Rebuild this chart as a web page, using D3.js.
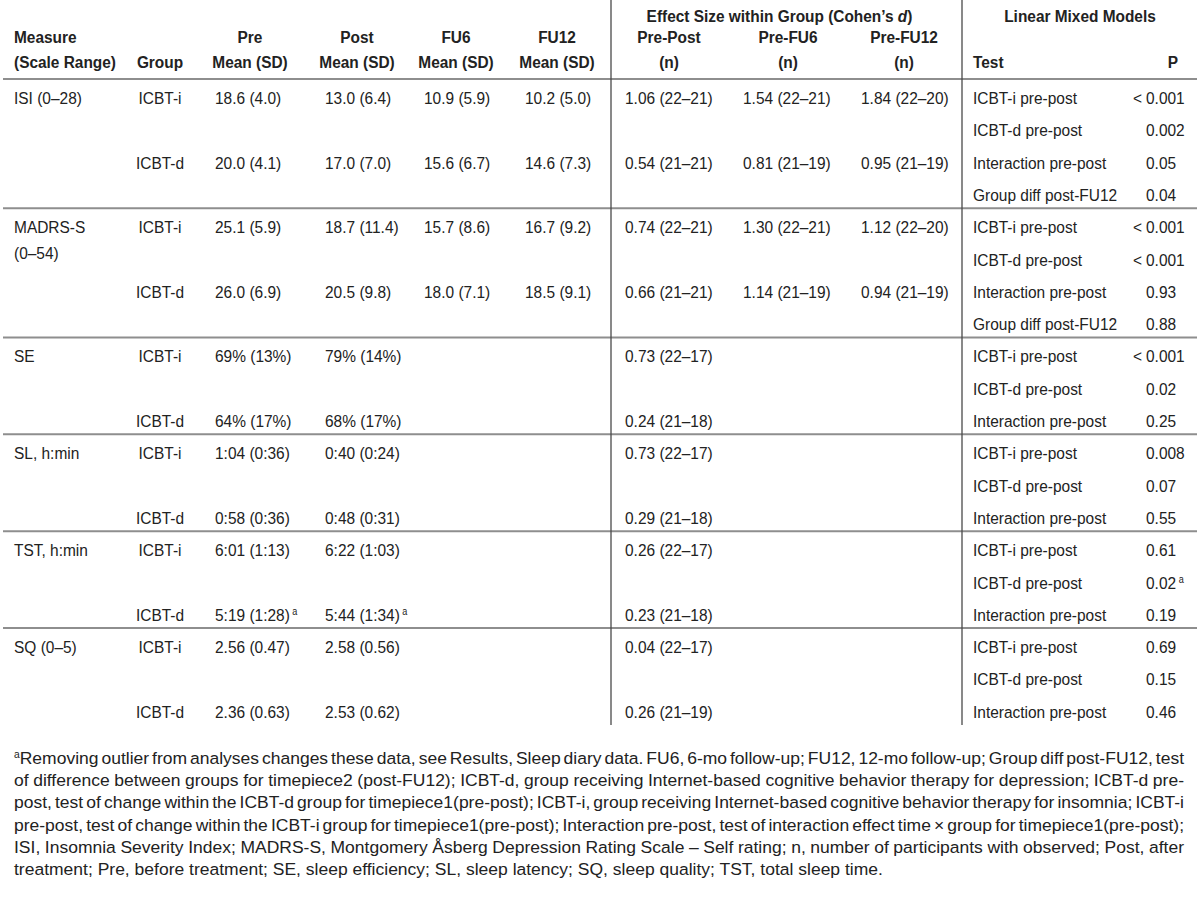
<!DOCTYPE html>
<html><head><meta charset="utf-8">
<script src="https://cdn.jsdelivr.net/npm/d3@7"></script>
<style>body{margin:0;background:#fff}</style>
</head><body><svg id="c" width="1200" height="901"></svg>
<script>
// ---------- data ----------
const measures = [["ISI (0–28)"],["MADRS-S","(0–54)"],["SE"],["SL, h:min"],["TST, h:min"],["SQ (0–5)"]];
const groups = ["ICBT-i","ICBT-d"];
const preMean = [["18.6 (4.0)","20.0 (4.1)"],["25.1 (5.9)","26.0 (6.9)"],["69% (13%)","64% (17%)"],["1:04 (0:36)","0:58 (0:36)"],["6:01 (1:13)","5:19 (1:28)^a"],["2.56 (0.47)","2.36 (0.63)"]];
const postMean = [["13.0 (6.4)","17.0 (7.0)"],["18.7 (11.4)","20.5 (9.8)"],["79% (14%)","68% (17%)"],["0:40 (0:24)","0:48 (0:31)"],["6:22 (1:03)","5:44 (1:34)^a"],["2.58 (0.56)","2.53 (0.62)"]];
const fu6Mean = [["10.9 (5.9)","15.6 (6.7)"],["15.7 (8.6)","18.0 (7.1)"],["",""],["",""],["",""],["",""]];
const fu12Mean = [["10.2 (5.0)","14.6 (7.3)"],["16.7 (9.2)","18.5 (9.1)"],["",""],["",""],["",""],["",""]];
const esPrePost = [["1.06 (22–21)","0.54 (21–21)"],["0.74 (22–21)","0.66 (21–21)"],["0.73 (22–17)","0.24 (21–18)"],["0.73 (22–17)","0.29 (21–18)"],["0.26 (22–17)","0.23 (21–18)"],["0.04 (22–17)","0.26 (21–19)"]];
const esPreFU6 = [["1.54 (22–21)","0.81 (21–19)"],["1.30 (22–21)","1.14 (21–19)"],["",""],["",""],["",""],["",""]];
const esPreFU12 = [["1.84 (22–20)","0.95 (21–19)"],["1.12 (22–20)","0.94 (21–19)"],["",""],["",""],["",""],["",""]];
const tests = [
  ["ICBT-i pre-post","ICBT-d pre-post","Interaction pre-post","Group diff post-FU12"],
  ["ICBT-i pre-post","ICBT-d pre-post","Interaction pre-post","Group diff post-FU12"],
  ["ICBT-i pre-post","ICBT-d pre-post","Interaction pre-post"],
  ["ICBT-i pre-post","ICBT-d pre-post","Interaction pre-post"],
  ["ICBT-i pre-post","ICBT-d pre-post","Interaction pre-post"],
  ["ICBT-i pre-post","ICBT-d pre-post","Interaction pre-post"]];
const pValues = [["< 0.001","0.002","0.05","0.04"],["< 0.001","< 0.001","0.93","0.88"],["< 0.001","0.02","0.25"],["0.008","0.07","0.55"],["0.61","0.02^a","0.19"],["0.69","0.15","0.46"]];
const headerTop = [["Measure","(Scale Range)"],["","Group"],["Pre","Mean (SD)"],["Post","Mean (SD)"],["FU6","Mean (SD)"],["FU12","Mean (SD)"],["Pre-Post","(n)"],["Pre-FU6","(n)"],["Pre-FU12","(n)"]];
const footnoteLines = [
  "^aRemoving outlier from analyses changes these data, see Results, Sleep diary data. FU6, 6-mo follow-up; FU12, 12-mo follow-up; Group diff post-FU12, test",
  "of difference between groups for timepiece2 (post-FU12); ICBT-d, group receiving Internet-based cognitive behavior therapy for depression; ICBT-d pre-",
  "post, test of change within the ICBT-d group for timepiece1(pre-post); ICBT-i, group receiving Internet-based cognitive behavior therapy for insomnia; ICBT-i",
  "pre-post, test of change within the ICBT-i group for timepiece1(pre-post); Interaction pre-post, test of interaction effect time × group for timepiece1(pre-post);",
  "ISI, Insomnia Severity Index; MADRS-S, Montgomery Åsberg Depression Rating Scale – Self rating; n, number of participants with observed; Post, after",
  "treatment; Pre, before treatment; SE, sleep efficiency; SL, sleep latency; SQ, sleep quality; TST, total sleep time."];

// ---------- layout ----------
const svg = d3.select("#c");
const INK = "#222";
function hasFont(name){
  const c=document.createElement('canvas').getContext('2d');
  const s='ICBT-i pre-post mmmwwwiii';
  c.font='40px monospace'; const a=c.measureText(s).width;
  c.font='40px "'+name+'", monospace'; const b=c.measureText(s).width;
  return Math.abs(a-b)>0.5;
}
const FAM = hasFont('Liberation Sans Narrow') ? '"Liberation Sans Narrow", "Liberation Sans", Arial, sans-serif' : '"Liberation Sans", Arial, sans-serif';
const FS = 17;
svg.attr("font-family", FAM).style("fill", INK);

function measure(str, bold, size){
  const t = svg.append("text").attr("font-size", size||FS).attr("font-weight", bold?"bold":null).text(str);
  const w = t.node().getComputedTextLength(); t.remove(); return w;
}
const sxBody = Math.max(0.7, Math.min(1.15, 104 / measure("ICBT-i pre-post")));
const sxBold = Math.max(0.7, Math.min(1.15, 266 / measure("Effect Size within Group (Cohen’s d)", true)));
const sxFoot = Math.max(0.7, Math.min(1.15, 869 / measure(footnoteLines[5])));

function T(parent, x, y, s, o={}){
  const sx = o.sx || (o.bold ? sxBold : sxBody);
  const g = parent.append("g").attr("transform", `translate(${x},${y}) scale(${sx},1)`);
  const t = g.append("text").attr("text-anchor", o.anchor||"start")
    .attr("font-size", o.size||FS).attr("font-weight", o.bold?"bold":null).attr("fill", INK);
  const parts = s.split("^");
  if (parts[0]) t.append("tspan").text(parts[0]);
  if (parts.length>1) {
    const lead = parts[0] ? "\u00a0" : "";
    t.append("tspan").attr("font-size", 10).attr("dy", -6).text(lead + parts[1].slice(0,1));
    if (parts[1].length>1) t.append("tspan").attr("dy", 6).text(parts[1].slice(1));
  }
  return {g, t, width: () => t.node().getComputedTextLength()*sx};
}

const totalRows = d3.sum(tests, d => d.length);
const y = d3.scaleLinear().domain([0, totalRows]).range([79, 725]);
const rowBase = i => y(i) + 19 + 6;   // baseline of text in row i

// column anchors
const col = {measure:14, group:160, pre:215, post:325, fu6:424, fu12:525, es1:625, es2:743, es3:861, test:973, p:1146};
const hdrCenter = [14, 160, 250, 357, 456, 557, 669, 788, 904];
const lineX1 = 3, lineX2 = 1197, vX = [611, 962];

// header
const H = svg.append("g");
headerTop.forEach((h, i) => {
  const anchor = i === 0 ? "start" : "middle";
  if (h[0]) T(H, hdrCenter[i], 43, h[0], {bold:true, anchor});
  if (h[1]) T(H, hdrCenter[i], 68, h[1], {bold:true, anchor});
});
{
  const e = T(H, (vX[0] + 948) / 2, 22, "Effect Size within Group (Cohen’s ", {bold:true, anchor:"middle"});
  e.t.append("tspan").attr("font-style","italic").text("d");
  e.t.append("tspan").text(")");
}
T(H, (vX[1] + 1198) / 2, 22, "Linear Mixed Models", {bold:true, anchor:"middle"});
T(H, col.test, 68, "Test", {bold:true});
T(H, 1173, 68, "P", {bold:true, anchor:"middle"});

// rules
svg.append("line").attr("x1", lineX1).attr("x2", lineX2).attr("y1", y(0)).attr("y2", y(0))
  .attr("stroke", "#8e8e8e").attr("stroke-width", 2);
let start = 0;
const blockStarts = tests.map(t => { const s = start; start += t.length; return s; });
blockStarts.slice(1).forEach(s => {
  svg.append("line").attr("x1", lineX1).attr("x2", lineX2).attr("y1", y(s)).attr("y2", y(s))
    .attr("stroke", "#8e8e8e").attr("stroke-width", 2);
});
vX.forEach(x => svg.append("line").attr("x1", x).attr("x2", x).attr("y1", 0).attr("y2", y(totalRows))
  .attr("stroke", "#4a4a4a").attr("stroke-width", 1.3));

// body
const B = svg.append("g");
measures.forEach((m, bi) => {
  const s = blockStarts[bi];
  m.forEach((line, li) => T(B, col.measure, rowBase(s) + li * 26, line));
  groups.forEach((g, gi) => {
    const yy = rowBase(s + gi * 2);
    T(B, col.group, yy, g, {anchor:"middle"});
    const cells = [[col.pre, preMean], [col.post, postMean], [col.fu6, fu6Mean], [col.fu12, fu12Mean],
                   [col.es1, esPrePost], [col.es2, esPreFU6], [col.es3, esPreFU12]];
    cells.forEach(([x, arr]) => { if (arr[bi][gi]) T(B, x, yy, arr[bi][gi]); });
  });
  tests[bi].forEach((t, ti) => {
    const yy = rowBase(s + ti);
    T(B, col.test, yy, t);
    let pv = pValues[bi][ti];
    if (pv.startsWith("< ")) { T(B, col.p - 4, yy, "<", {anchor:"end"}); pv = pv.slice(2); }
    T(B, col.p, yy, pv);
  });
});

// footnote (justified)
const F = svg.append("g");
const fx0 = 14, fx1 = 1184, fy0 = 764, fdy = 22.2;
footnoteLines.forEach((line, li) => {
  const yy = fy0 + li * fdy;
  const words = line.split(" ");
  if (li === footnoteLines.length - 1) { T(F, fx0, yy, line, {sx: sxFoot}); return; }
  const items = words.map(w => T(F, 0, yy, w, {sx: sxFoot}));
  const widths = items.map(it => it.width());
  const gap = (fx1 - fx0 - d3.sum(widths)) / (words.length - 1);
  let x = fx0;
  items.forEach((it, i) => { it.g.attr("transform", `translate(${x},${yy}) scale(${sxFoot},1)`); x += widths[i] + gap; });
});
</script></body></html>
